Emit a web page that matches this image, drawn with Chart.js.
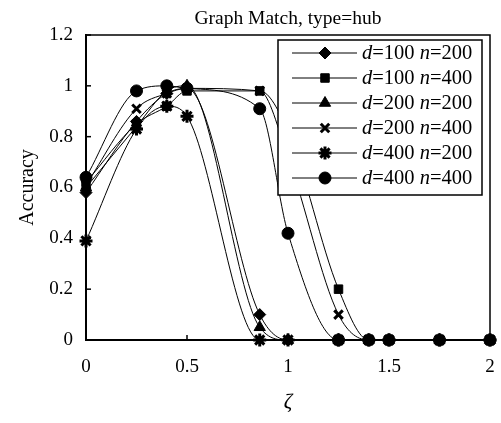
<!DOCTYPE html>
<html>
<head>
<meta charset="utf-8">
<script src="https://cdn.jsdelivr.net/npm/chart.js@4.4.1/dist/chart.umd.min.js"></script>
<style>
  html, body { margin: 0; padding: 0; background: #fff; }
  #wrap { width: 501px; height: 423px; }
</style>
</head>
<body>
<div id="wrap"><canvas id="c" width="501" height="423"></canvas></div>
<script>
// ---- data ----
const zeta      = [0, 0.25, 0.4, 0.5, 0.86, 1, 1.25, 1.4, 1.5, 1.75, 2];
const d100n200  = [0.58, 0.86, 0.97, 0.99, 0.10, 0, 0, 0, 0, 0, 0];
const d100n400  = [0.62, 0.85, 0.92, 0.98, 0.98, 0.82, 0.20, 0, 0, 0, 0];
const d200n200  = [0.60, 0.84, 0.98, 1.00, 0.05, 0, 0, 0, 0, 0, 0];
const d200n400  = [0.61, 0.91, 0.97, 0.99, 0.98, 0.72, 0.10, 0, 0, 0, 0];
const d400n200  = [0.39, 0.83, 0.92, 0.88, 0, 0, 0, 0, 0, 0, 0];
const d400n400  = [0.64, 0.98, 1.00, 0.99, 0.91, 0.42, 0, 0, 0, 0, 0];
const seriesLabels = ['d=100 n=200', 'd=100 n=400', 'd=200 n=200', 'd=200 n=400', 'd=400 n=200', 'd=400 n=400'];
const seriesValues = [d100n200, d100n400, d200n200, d200n400, d400n200, d400n400];
const xTickLabels = ['0', '0.5', '1', '1.5', '2'];
const yTickLabels = ['0', '0.2', '0.4', '0.6', '0.8', '1', '1.2'];
const chartTitle = 'Graph Match, type=hub';
const xTitle = 'ζ';
const yTitle = 'Accuracy';

// ---- styles ----
const pointStyles = ['rectRot', 'rect', 'triangle', 'crossRot', 'star', 'circle'];
const pointRadii  = [6, 6, 6.5, 6, 6.5, 6];
const pointBorders = [1, 1, 1, 3, 3, 1];
const SERIF = '"Liberation Serif", "Times New Roman", serif';

Chart.defaults.font.family = SERIF;
Chart.defaults.color = '#000';

const datasets = seriesLabels.map((lab, i) => ({
  label: lab,
  data: zeta.map((z, k) => ({ x: z, y: seriesValues[i][k] })),
  showLine: true,
  borderColor: '#000',
  borderWidth: 1,
  backgroundColor: '#000',
  pointStyle: pointStyles[i],
  pointRadius: pointRadii[i],
  pointBorderWidth: pointBorders[i],
  pointBackgroundColor: '#000',
  pointBorderColor: '#000',
  cubicInterpolationMode: 'monotone',
  clip: false
}));

function drawMixedText(ctx, text, x, y, size) {
  let cx = x;
  for (const ch of text) {
    const italic = /[a-z]/i.test(ch);
    ctx.font = (italic ? 'italic ' : '') + size + 'px ' + SERIF;
    ctx.fillText(ch, cx, y);
    cx += ctx.measureText(ch).width;
  }
}

const framePlugin = {
  id: 'frameLegend',
  afterDatasetsDraw(chart) {
    const { ctx, chartArea: a, scales: { x, y } } = chart;
    ctx.save();
    ctx.strokeStyle = '#000';
    // frame
    ctx.lineWidth = 1.5;
    ctx.strokeRect(a.left, a.top, a.right - a.left, a.bottom - a.top);
    // inward ticks
    ctx.lineWidth = 1.5;
    y.ticks.forEach(t => {
      const py = y.getPixelForValue(t.value);
      ctx.beginPath(); ctx.moveTo(a.left, py); ctx.lineTo(a.left + 5, py); ctx.stroke();
    });
    x.ticks.forEach(t => {
      const px = x.getPixelForValue(t.value);
      ctx.beginPath(); ctx.moveTo(px, a.bottom); ctx.lineTo(px, a.bottom - 5); ctx.stroke();
    });
    // legend box
    const bx = 278, by = 40, bw = 204, bh = 155;
    ctx.fillStyle = '#fff';
    ctx.fillRect(bx, by, bw, bh);
    ctx.lineWidth = 1.5;
    ctx.strokeRect(bx, by, bw, bh);
    chart.data.datasets.forEach((ds, i) => {
      const ry = by + 13 + i * 25;
      ctx.strokeStyle = '#000';
      ctx.lineWidth = 1;
      ctx.beginPath(); ctx.moveTo(bx + 14, ry); ctx.lineTo(bx + 79, ry); ctx.stroke();
      ctx.fillStyle = '#000';
      ctx.lineWidth = ds.pointBorderWidth;
      if (Chart.helpers && Chart.helpers.drawPoint) {
        Chart.helpers.drawPoint(ctx, { pointStyle: ds.pointStyle, radius: ds.pointRadius, borderWidth: ds.pointBorderWidth, rotation: 0 }, bx + 47, ry);
      } else {
        ctx.beginPath(); ctx.arc(bx + 47, ry, 5, 0, Math.PI * 2); ctx.fill();
      }
      ctx.fillStyle = '#000';
      ctx.textBaseline = 'middle';
      ctx.textAlign = 'left';
      drawMixedText(ctx, ds.label, bx + 84, ry + 1, 20.5);
    });
    ctx.restore();
  }
};

new Chart(document.getElementById('c'), {
  type: 'scatter',
  data: { datasets },
  options: {
    responsive: false,
    animation: false,
    devicePixelRatio: 1,
    layout: { autoPadding: false, padding: { left: 0, right: 11, top: 0, bottom: 0 } },
    plugins: {
      legend: { display: false },
      tooltip: { enabled: false },
      title: {
        display: true,
        text: chartTitle,
        fullSize: false,
        color: '#000',
        font: { family: SERIF, size: 19.5, weight: 'normal' },
        padding: { top: 7, bottom: 4.6 }
      }
    },
    scales: {
      x: {
        type: 'linear',
        min: 0, max: 2,
        afterFit: s => { s.height = 83; s.paddingLeft = 0; s.paddingRight = 0; },
        grid: { display: false, drawTicks: false },
        border: { display: true, color: '#000', width: 2 },
        ticks: {
          stepSize: 0.5,
          padding: 16,
          color: '#000',
          font: { family: SERIF, size: 19 },
          callback: (v, i) => xTickLabels[i] !== undefined ? xTickLabels[i] : String(v)
        },
        title: {
          display: true,
          text: xTitle,
          color: '#000',
          font: { family: SERIF, size: 21, style: 'italic' },
          padding: { top: 0, bottom: 8 }
        }
      },
      y: {
        type: 'linear',
        min: 0, max: 1.2,
        afterFit: s => { s.width = 86; s.paddingTop = 0; s.paddingBottom = 0; },
        grid: { display: false, drawTicks: false },
        border: { display: true, color: '#000', width: 2 },
        ticks: {
          stepSize: 0.2,
          padding: 13,
          color: '#000',
          font: { family: SERIF, size: 19 },
          callback: (v, i) => yTickLabels[i] !== undefined ? yTickLabels[i] : String(v)
        },
        title: {
          display: true,
          text: yTitle,
          color: '#000',
          font: { family: SERIF, size: 20 },
          padding: { top: 16, bottom: 0 }
        }
      }
    }
  },
  plugins: [framePlugin]
});
</script>
</body>
</html>
